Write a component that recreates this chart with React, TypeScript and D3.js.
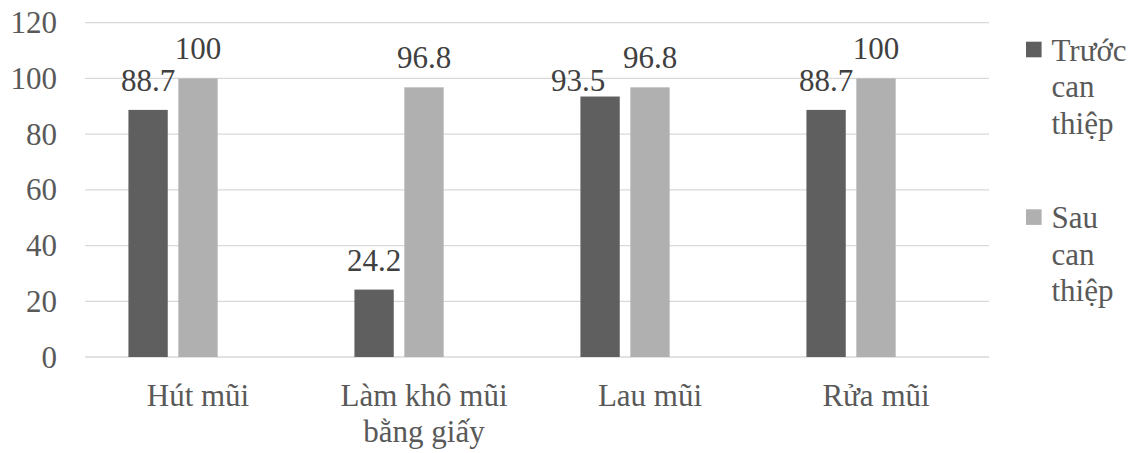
import React from "react";
import * as d3 from "d3";

// Categories (line breaks mark where the axis label wraps)
const categories = ["Hút mũi", "Làm khô mũi\nbằng giấy", "Lau mũi", "Rửa mũi"];
const seriesNames = ["Trước can thiệp", "Sau can thiệp"];
const beforeValues = [88.7, 24.2, 93.5, 88.7];
const afterValues = [100, 96.8, 96.8, 100];
const yTicks = [0, 20, 40, 60, 80, 100, 120];
const seriesColors = ["#5f5f5f", "#b0b0b0"];

const W = 1135;
const H = 453;
const margin = { left: 85, right: 146, top: 22.7, bottom: 96 };
const FONT = "Liberation Serif, serif";
const textStyle: React.CSSProperties = { fontFamily: FONT, fontSize: 31 };

// Hand-placed value label that was dragged aside to clear its neighbour
const labelShift: Record<string, [number, number]> = { "2-0": [-22, 13] };

export default function App() {
  const x = d3
    .scaleBand<string>()
    .domain(categories)
    .range([margin.left, W - margin.right])
    .padding(0);
  const y = d3.scaleLinear().domain([0, 120]).range([H - margin.bottom, margin.top]);

  // Each cluster keeps three slots (the third stays empty), bars in the first two
  const inner = d3
    .scaleBand<number>()
    .domain([0, 1, 2])
    .range([0, x.bandwidth()])
    .paddingInner(0.212)
    .paddingOuter(0.87);

  const series = [beforeValues, afterValues];
  const [x0, x1] = x.range();

  return (
    <svg
      width={W}
      height={H}
      style={{ position: "absolute", left: 0, top: 0, background: "#fff", fontFamily: FONT }}
    >
      {/* gridlines */}
      {yTicks.map((t) => (
        <line key={t} x1={x0} x2={x1} y1={y(t)} y2={y(t)} stroke="#d9d9d9" strokeWidth={1.3} />
      ))}
      {/* y tick labels */}
      {yTicks.map((t) => (
        <text key={"l" + t} x={57} y={y(t) + 10.5} textAnchor="end" style={textStyle} fill="#595959">
          {String(t)}
        </text>
      ))}
      {/* bars */}
      {categories.map((c, ci) =>
        series.map((vals, si) => {
          const bx = (x(c) as number) + (inner(si) as number);
          const v = vals[ci];
          return (
            <rect
              key={"b" + c + si}
              x={bx}
              y={y(v)}
              width={inner.bandwidth()}
              height={y(0) - y(v)}
              fill={seriesColors[si]}
            />
          );
        })
      )}
      {/* value labels */}
      {categories.map((c, ci) =>
        series.map((vals, si) => {
          const bw = inner.bandwidth();
          const bx = (x(c) as number) + (inner(si) as number);
          const v = vals[ci];
          const [dx, dy] = labelShift[`${ci}-${si}`] ?? [0, 0];
          return (
            <text
              key={"v" + c + si}
              x={bx + bw / 2 + dx}
              y={y(v) - 19 + dy}
              textAnchor="middle"
              style={textStyle}
              fill="#404040"
            >
              {String(v)}
            </text>
          );
        })
      )}
      {/* category labels */}
      {categories.map((c) => (
        <text
          key={"c" + c}
          x={(x(c) as number) + x.bandwidth() / 2}
          y={406}
          textAnchor="middle"
          style={textStyle}
          fill="#595959"
        >
          {c.split("\n").map((line, i) => (
            <tspan key={i} x={(x(c) as number) + x.bandwidth() / 2} dy={i === 0 ? 0 : 36}>
              {line}
            </tspan>
          ))}
        </text>
      ))}
      {/* legend */}
      {seriesNames.map((name, si) => {
        const top = 41.7 + si * 167.6;
        return (
          <g key={name}>
            <rect x={1026} y={top} width={15.6} height={15.6} fill={seriesColors[si]} />
            <text x={1051.5} y={top + 18.8} style={textStyle} fill="#595959">
              {name.split(" ").map((word, i) => (
                <tspan key={i} x={1051.5} dy={i === 0 ? 0 : 36.5}>
                  {word}
                </tspan>
              ))}
            </text>
          </g>
        );
      })}
    </svg>
  );
}
